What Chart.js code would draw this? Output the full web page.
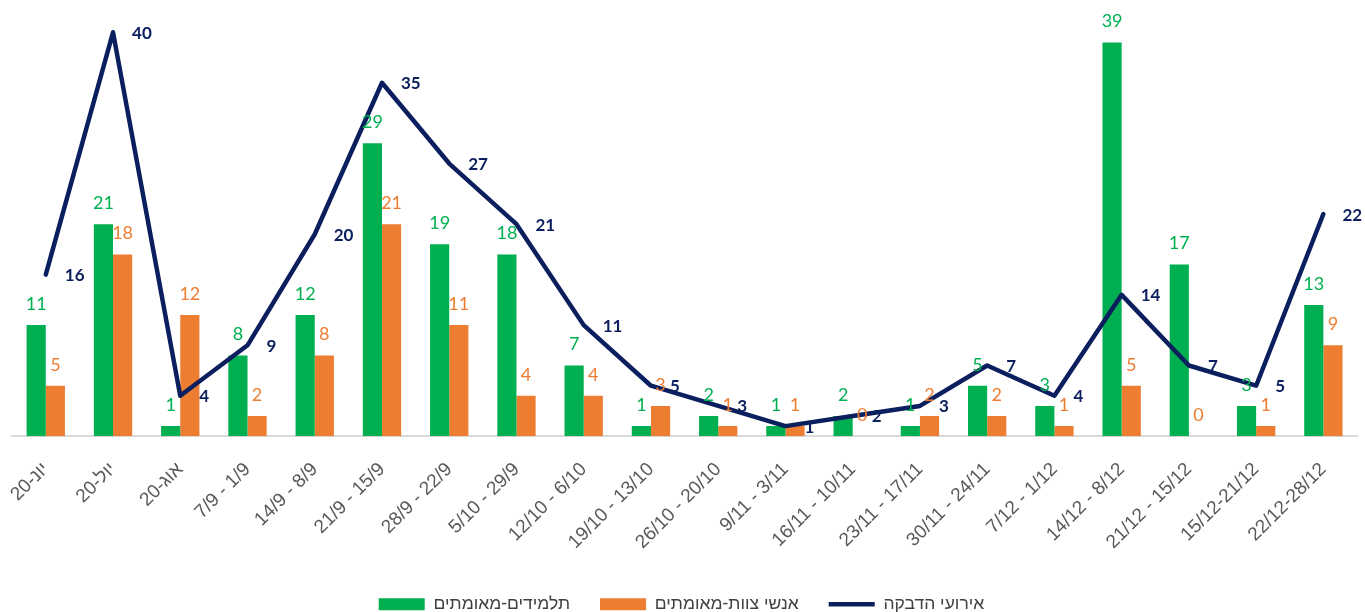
<!DOCTYPE html>
<html>
<head>
<meta charset="utf-8">
<script src="https://cdn.jsdelivr.net/npm/chart.js@4"></script>
<style>
  html, body { margin: 0; padding: 0; background: #fff; }
  #wrap { width: 1365px; height: 612px; position: relative; }
</style>
</head>
<body>
<div id="wrap"><canvas id="grafico"></canvas></div>
<script>
const labels = ["יונ-20", "יול-20", "אוג-20", "7/9 - 1/9", "14/9 - 8/9", "21/9 - 15/9", "28/9 - 22/9",
  "5/10 - 29/9", "12/10 - 6/10", "19/10 - 13/10", "26/10 - 20/10", "9/11 - 3/11", "16/11 - 10/11",
  "23/11 - 17/11", "30/11 - 24/11", "7/12 - 1/12", "14/12 - 8/12", "21/12 - 15/12", "15/12-21/12", "22/12-28/12"]
const talmidim = [11, 21, 1, 8, 12, 29, 19, 18, 7, 1, 2, 1, 2, 1, 5, 3, 39, 17, 3, 13]
const tzevet = [5, 18, 12, 2, 8, 21, 11, 4, 4, 3, 1, 1, 0, 2, 2, 1, 5, 0, 1, 9]
const hadbaka = [16, 40, 4, 9, 20, 35, 27, 21, 11, 5, 3, 1, 2, 3, 7, 4, 14, 7, 5, 22]

const GREEN = '#00b050'
const ORANGE = '#ed7d31'
const NAVY = '#0b1f5e'

// value labels drawn from the element positions
const valueLabels = {
  id: 'valueLabels',
  afterDatasetsDraw(chart) {
    const ctx = chart.ctx
    ctx.save()
    chart.data.datasets.forEach((ds, i) => {
      const meta = chart.getDatasetMeta(i)
      meta.data.forEach((el, j) => {
        const v = ds.data[j]
        if (ds.type === 'line') {
          ctx.font = 'bold 17px Lato'
          ctx.fillStyle = NAVY
          ctx.textAlign = 'left'
          ctx.textBaseline = 'middle'
          ctx.fillText(v, el.x + 19, el.y + 1)
        } else {
          ctx.font = '18px Lato'
          ctx.fillStyle = ds.backgroundColor
          ctx.textAlign = 'center'
          ctx.textBaseline = 'middle'
          ctx.fillText(v, el.x, el.y - 21)
        }
      })
    })
    ctx.restore()
  }
}

const ctx = document.getElementById('grafico')
let grafico = new Chart(ctx, {
  data: {
    labels: labels,
    datasets: [
      {
        type: 'bar',
        label: 'תלמידים-מאומתים',
        data: talmidim,
        backgroundColor: GREEN,
        borderWidth: 0,
        pointStyle: 'rect',
        order: 1
      },
      {
        type: 'bar',
        label: 'אנשי צוות-מאומתים',
        data: tzevet,
        backgroundColor: ORANGE,
        borderWidth: 0,
        pointStyle: 'rect',
        order: 1
      },
      {
        type: 'line',
        label: 'אירועי הדבקה',
        data: hadbaka,
        borderColor: NAVY,
        backgroundColor: NAVY,
        borderWidth: 4.5,
        borderCapStyle: 'round',
        borderJoinStyle: 'round',
        pointRadius: 0,
        pointStyle: 'line',
        tension: 0,
        order: 0
      }
    ]
  },
  options: {
    responsive: true,
    maintainAspectRatio: false,
    animation: false,
    layout: { padding: { left: 6, right: 8, top: 2, bottom: -11 } },
    datasets: {
      bar: { categoryPercentage: 0.57, barPercentage: 1 }
    },
    plugins: {
      tooltip: { enabled: false },
      legend: {
        position: 'bottom',
        labels: {
          usePointStyle: true,
          pointStyleWidth: 46,
          boxHeight: 12,
          padding: 30,
          color: '#404040',
          font: { family: 'Liberation Sans', size: 17.5 },
          sort: (a, b) => a.datasetIndex - b.datasetIndex
        }
      }
    },
    scales: {
      x: {
        grid: { display: false },
        border: { color: '#d9d9d9', width: 2 },
        ticks: {
          color: '#595959',
          font: { family: 'Liberation Sans', size: 19 },
          maxRotation: 45,
          minRotation: 45,
          autoSkip: false,
          padding: 14
        },
        afterFit: (scale) => { scale.height -= 2 }
      },
      y: {
        display: false,
        min: 0,
        max: 43
      }
    }
  },
  plugins: [valueLabels]
})
</script>
</body>
</html>
